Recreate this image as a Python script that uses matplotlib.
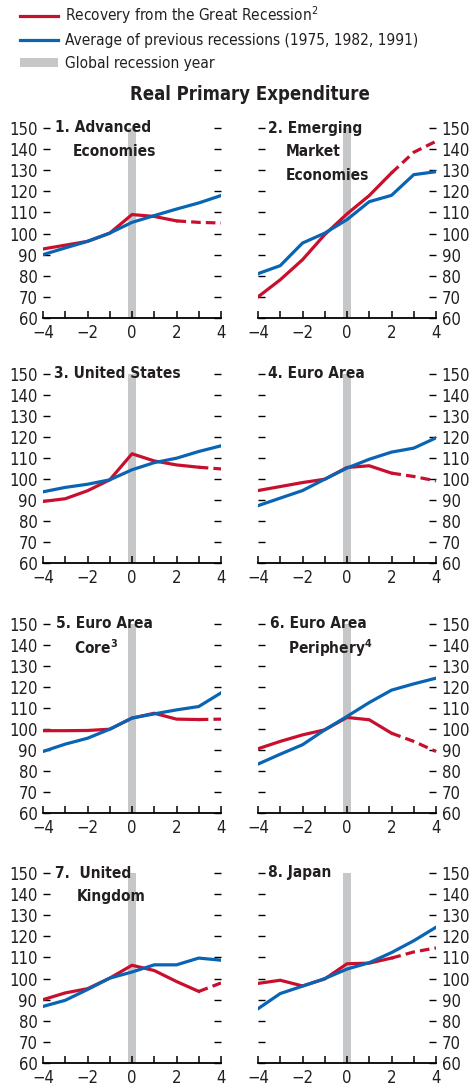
import matplotlib
matplotlib.use("Agg")
import matplotlib.pyplot as plt
from matplotlib import font_manager
from matplotlib.lines import Line2D
from matplotlib.patches import Patch

# pick a narrow sans face if one is installed
fonts = font_manager.fontManager.ttflist
names = {f.name for f in fonts}
if 'Liberation Sans Narrow' in names:
    FAM, STRETCH, K = 'Liberation Sans Narrow', 'normal', 1.0
elif any(f.name == 'DejaVu Sans' and f.stretch == 'condensed' for f in fonts):
    FAM, STRETCH, K = 'DejaVu Sans', 'condensed', 0.92
else:
    FAM, STRETCH, K = 'Liberation Sans', 'normal', 0.88

plt.rcParams['font.family'] = [FAM, 'DejaVu Sans']
plt.rcParams['font.stretch'] = STRETCH
plt.rcParams['mathtext.fontset'] = 'custom'
plt.rcParams['mathtext.rm'] = FAM
plt.rcParams['mathtext.bf'] = FAM + ':bold'

years = [-4, -3, -2, -1, 0, 1, 2, 3, 4]

titles = [
    ["1. Advanced", "Economies"],
    ["2. Emerging", "Market", "Economies"],
    ["3. United States"],
    ["4. Euro Area"],
    ["5. Euro Area", r"Core$^{\mathbf{3}}$"],
    ["6. Euro Area", r"Periphery$^{\mathbf{4}}$"],
    ["7.  United", "Kingdom"],
    ["8. Japan"],
]

# Great Recession recovery (points after last_actual are projections, dashed)
red = [
    [92.7, 94.5, 96.3, 100.2, 109.0, 108.1, 106.0, 105.3, 105.0],
    [70.0, 78.1, 87.6, 99.5, 109.3, 118.0, 128.7, 138.5, 143.7],
    [89.3, 90.6, 94.4, 99.6, 112.0, 108.6, 106.7, 105.6, 104.8],
    [94.5, 96.4, 98.3, 99.9, 105.5, 106.3, 102.8, 101.2, 99.1],
    [99.2, 99.2, 99.3, 99.9, 105.2, 107.5, 104.7, 104.5, 104.7],
    [90.6, 94.1, 97.2, 99.6, 105.5, 104.4, 98.0, 94.1, 89.3],
    [90.0, 93.2, 95.2, 100.2, 106.3, 103.8, 98.6, 93.9, 97.9],
    [97.7, 99.2, 96.5, 99.8, 107.0, 107.3, 109.7, 112.6, 114.5],
]
last_actual = [2, 2, 3, 2, 3, 2, 3, 2]

# average of previous recessions
blue = [
    [90.0, 93.2, 96.3, 100.2, 105.3, 108.5, 111.6, 114.5, 118.0],
    [81.0, 84.8, 95.5, 100.2, 106.6, 115.1, 118.1, 127.9, 129.3],
    [93.9, 96.0, 97.5, 99.6, 104.4, 107.8, 109.9, 113.1, 115.8],
    [87.3, 90.9, 94.5, 99.9, 105.2, 109.4, 112.8, 114.7, 119.6],
    [89.3, 92.8, 95.6, 99.9, 105.2, 107.2, 109.1, 110.7, 117.2],
    [83.3, 88.0, 92.5, 99.6, 106.0, 112.6, 118.5, 121.5, 124.2],
    [86.8, 89.7, 94.8, 100.2, 103.1, 106.5, 106.5, 109.7, 108.7],
    [85.7, 92.9, 96.4, 100.0, 104.5, 107.5, 112.3, 117.9, 124.3],
]

yticks = [60, 70, 80, 90, 100, 110, 120, 130, 140, 150]
xticks = [-4, -2, 0, 2, 4]
xticklabels = ['\u22124', '\u22122', '0', '2', '4']

RED = '#C8102E'
BLUE = '#0A64B4'
GREY = '#C6C7C9'
TXT = '#231F20'

W, H = 472, 1086
fig = plt.figure(figsize=(W / 100, H / 100), dpi=100)

lefts = [43, 258]
width = 178
rows = [(128, 318), (374, 563), (624, 813), (873, 1063)]
title_off = [(12, 30), (10, 28), (11, 11), (10, 10), (13, 31), (12, 30), (12, 34), (10, 10)]

for i in range(8):
    r, c = divmod(i, 2)
    top, bot = rows[r]
    ax = fig.add_axes([lefts[c] / W, 1 - bot / H, width / W, (bot - top) / H])
    ax.axvspan(-0.19, 0.19, color=GREY, lw=0, zorder=1)
    k = years.index(last_actual[i])
    ax.plot(years, blue[i], color=BLUE, lw=2.3, zorder=3)
    ax.plot(years[:k + 1], red[i][:k + 1], color=RED, lw=2.3, zorder=2)
    ax.plot(years[k:], red[i][k:], color=RED, lw=2.3, zorder=2, dashes=(3, 1.6))
    ax.set_xlim(-4, 4)
    ax.set_ylim(60, 150)
    for s in ['top', 'left', 'right']:
        ax.spines[s].set_visible(False)
    ax.spines['bottom'].set_linewidth(1.3)
    ax.set_xticks(xticks)
    ax.set_xticks(years, minor=True)
    ax.set_yticks(yticks)
    ax.tick_params(axis='x', which='both', direction='in', length=5, width=1.1,
                   labelsize=13 * K, labelcolor=TXT, pad=4)
    ax.tick_params(axis='y', direction='in', length=5, width=1.0, left=True, right=True,
                   labelleft=(c == 0), labelright=(c == 1), labelsize=13 * K,
                   labelcolor=TXT, pad=4)
    ax.set_xticklabels(xticklabels)
    offs = title_off[i]
    for j, line in enumerate(titles[i]):
        ax.annotate(line, xy=(0, 150), xycoords=('axes fraction', 'data'),
                    xytext=(offs[0] if j == 0 else offs[1], -24 * j),
                    textcoords='offset pixels', ha='left', va='center',
                    fontsize=12 * K, fontweight='bold', color=TXT, zorder=5)

fig.text(250 / W, 1 - 95 / H, 'Real Primary Expenditure', ha='center', va='center',
         fontsize=14.5 * K, fontweight='bold', color=TXT)

handles = [Line2D([], [], color=RED, lw=2.3),
           Line2D([], [], color=BLUE, lw=2.3),
           Patch(facecolor=GREY, edgecolor='none')]
labels = [r'Recovery from the Great Recession$^2$',
          'Average of previous recessions (1975, 1982, 1991)',
          'Global recession year']
fig.legend(handles, labels, loc='upper left', bbox_to_anchor=(20 / W, 1 - 4 / H),
           frameon=False, fontsize=12 * K, handlelength=2.3 / K, handleheight=0.5,
           handletextpad=0.45, labelspacing=0.5, borderpad=0, borderaxespad=0,
           labelcolor=TXT)

fig.savefig('out.png', dpi=100)
